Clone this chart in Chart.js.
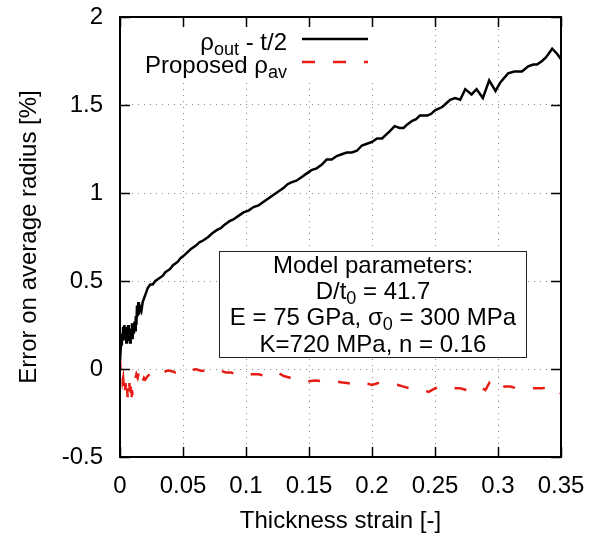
<!DOCTYPE html>
<html lang="en">
	<head>
		<meta charset="UTF-8" />
		<title>Error on average radius</title>
		<script src="https://cdn.jsdelivr.net/npm/chart.js@4/dist/chart.umd.min.js"></script>
		<style>
			body { margin: 0; background: #fff; }
		</style>
	</head>
	<body>
		<canvas id="errChart" width="590" height="537"></canvas>
		<script>
			const FONT = "'Liberation Sans', Arial, Helvetica, sans-serif";

			// rho_out - t/2 (black solid)
			const outStrain = [0, 0.0008, 0.0015, 0.002, 0.0025, 0.003, 0.0035, 0.004, 0.0045, 0.005, 0.0055, 0.006, 0.0065, 0.007, 0.0075, 0.008, 0.0085, 0.009, 0.0095, 0.01, 0.0105, 0.011, 0.0115, 0.012, 0.0125, 0.013, 0.0135, 0.014, 0.0145, 0.015, 0.016, 0.017, 0.018, 0.019, 0.02, 0.021, 0.022, 0.023, 0.024, 0.026, 0.028, 0.03, 0.032, 0.034, 0.036, 0.038, 0.04, 0.042, 0.044, 0.046, 0.048, 0.05, 0.053, 0.056, 0.06, 0.063, 0.066, 0.07, 0.073, 0.077, 0.08, 0.083, 0.087, 0.09, 0.094, 0.098, 0.102, 0.106, 0.11, 0.114, 0.118, 0.122, 0.126, 0.13, 0.133, 0.136, 0.14, 0.144, 0.148, 0.152, 0.156, 0.16, 0.164, 0.168, 0.172, 0.176, 0.18, 0.184, 0.188, 0.192, 0.196, 0.2, 0.204, 0.208, 0.211, 0.214, 0.218, 0.222, 0.225, 0.228, 0.232, 0.235, 0.238, 0.241, 0.244, 0.247, 0.25, 0.253, 0.256, 0.259, 0.262, 0.266, 0.27, 0.274, 0.279, 0.283, 0.288, 0.293, 0.298, 0.302, 0.308, 0.313, 0.319, 0.324, 0.328, 0.331, 0.335, 0.338, 0.341, 0.343, 0.347, 0.35];
			const outError = [0.05, 0.14, 0.2, 0.16, 0.24, 0.18, 0.25, 0.17, 0.22, 0.15, 0.24, 0.18, 0.25, 0.16, 0.22, 0.15, 0.23, 0.18, 0.26, 0.17, 0.24, 0.2, 0.27, 0.22, 0.3, 0.25, 0.36, 0.3, 0.38, 0.31, 0.35, 0.33, 0.38, 0.4, 0.42, 0.44, 0.46, 0.47, 0.48, 0.48, 0.5, 0.51, 0.52, 0.53, 0.55, 0.56, 0.57, 0.59, 0.6, 0.61, 0.63, 0.64, 0.66, 0.68, 0.7, 0.72, 0.73, 0.75, 0.77, 0.79, 0.8, 0.82, 0.84, 0.85, 0.87, 0.89, 0.9, 0.92, 0.93, 0.95, 0.97, 0.99, 1.01, 1.03, 1.05, 1.06, 1.07, 1.09, 1.11, 1.13, 1.14, 1.16, 1.19, 1.19, 1.21, 1.22, 1.23, 1.23, 1.24, 1.27, 1.28, 1.29, 1.31, 1.31, 1.33, 1.35, 1.38, 1.37, 1.37, 1.39, 1.41, 1.42, 1.44, 1.44, 1.44, 1.45, 1.47, 1.48, 1.49, 1.51, 1.53, 1.54, 1.53, 1.59, 1.56, 1.59, 1.54, 1.64, 1.58, 1.63, 1.68, 1.69, 1.69, 1.72, 1.73, 1.73, 1.75, 1.77, 1.8, 1.82, 1.79, 1.76];

			// proposed rho_av (red dashed)
			const avStrain = [0, 0.0005, 0.001, 0.0015, 0.002, 0.0025, 0.003, 0.0035, 0.004, 0.0045, 0.005, 0.0055, 0.006, 0.0065, 0.007, 0.0075, 0.008, 0.0085, 0.009, 0.0095, 0.01, 0.011, 0.012, 0.013, 0.014, 0.015, 0.016, 0.017, 0.018, 0.019, 0.02, 0.022, 0.025, 0.028, 0.031, 0.034, 0.037, 0.04, 0.044, 0.048, 0.052, 0.056, 0.06, 0.064, 0.068, 0.072, 0.076, 0.08, 0.084, 0.088, 0.092, 0.096, 0.1, 0.105, 0.11, 0.115, 0.12, 0.125, 0.13, 0.135, 0.14, 0.145, 0.15, 0.155, 0.16, 0.165, 0.17, 0.175, 0.18, 0.185, 0.19, 0.195, 0.2, 0.205, 0.21, 0.215, 0.22, 0.225, 0.23, 0.235, 0.24, 0.245, 0.25, 0.255, 0.26, 0.265, 0.27, 0.275, 0.28, 0.285, 0.29, 0.293, 0.296, 0.3, 0.305, 0.31, 0.315, 0.32, 0.325, 0.33, 0.335, 0.34, 0.345, 0.35];
			const avError = [0.06, -0.02, -0.05, -0.03, -0.07, -0.05, -0.1, -0.06, -0.12, -0.08, -0.14, -0.09, -0.16, -0.1, -0.13, -0.08, -0.18, -0.1, -0.2, -0.12, -0.15, -0.09, -0.06, -0.03, -0.05, -0.02, -0.06, -0.04, -0.07, -0.05, -0.06, -0.04, -0.02, 0, -0.01, -0.02, -0.01, -0.01, -0.02, -0.01, -0.02, -0.01, 0, -0.01, -0.01, -0.02, -0.02, -0.01, -0.02, -0.02, -0.03, -0.02, -0.03, -0.03, -0.03, -0.04, -0.035, -0.02, -0.04, -0.05, -0.06, -0.06, -0.07, -0.065, -0.07, -0.07, -0.07, -0.075, -0.08, -0.085, -0.09, -0.08, -0.09, -0.08, -0.08, -0.085, -0.09, -0.1, -0.11, -0.11, -0.12, -0.13, -0.11, -0.1, -0.1, -0.11, -0.11, -0.12, -0.12, -0.1, -0.12, -0.08, -0.12, -0.12, -0.1, -0.1, -0.11, -0.11, -0.11, -0.11, -0.11, -0.1, -0.1, -0.14];

			const xTicks = [0, 0.05, 0.1, 0.15, 0.2, 0.25, 0.3, 0.35];
			const yTicks = [-0.5, 0, 0.5, 1, 1.5, 2];

			const legendItems = [
				{ parts: [["ρ"], ["out", 1], [" - t/2"]], color: "#000", dash: [] },
				{ parts: [["Proposed ρ"], ["av", 1]], color: "rgb(232,30,22)", dash: [13, 18] },
			];
			const boxLines = [
				[["Model parameters:"]],
				[["D/t"], ["0", 1], [" = 41.7"]],
				[["E = 75 GPa, σ"], ["0", 1], [" = 300 MPa"]],
				[["K=720 MPa, n = 0.16"]],
			];

			// text with subscripts: parts = [[text, isSub], ...]
			function richWidth(ctx, parts) {
				let w = 0;
				for (const [t, sub] of parts) {
					ctx.font = (sub ? 18 : 24) + "px " + FONT;
					w += ctx.measureText(t).width;
				}
				return w;
			}
			function drawRich(ctx, parts, x, y) {
				ctx.textAlign = "left";
				ctx.textBaseline = "alphabetic";
				for (const [t, sub] of parts) {
					ctx.font = (sub ? 18 : 24) + "px " + FONT;
					ctx.fillText(t, x, sub ? y + 5 : y);
					x += ctx.measureText(t).width;
				}
			}

			const gnuplotBits = {
				id: "gnuplotBits",
				afterDraw(chart) {
					const ctx = chart.ctx;
					const { left, right, top, bottom } = chart.chartArea;
					const xs = chart.scales.x;
					const ys = chart.scales.y;
					ctx.save();

					// key (opaque)
					ctx.fillStyle = "#fff";
					ctx.fillRect(left + 1, top + 1, 376 - left, 77 - top);
					ctx.fillStyle = "#000";
					legendItems.forEach((item, i) => {
						const base = 50 + i * 23;
						const w = richWidth(ctx, item.parts);
						drawRich(ctx, item.parts, 287 - w, base);
						ctx.beginPath();
						ctx.strokeStyle = item.color;
						ctx.lineWidth = 2.5;
						ctx.setLineDash(item.dash);
						ctx.moveTo(302, base - 11);
						ctx.lineTo(368, base - 11);
						ctx.stroke();
					});
					ctx.setLineDash([]);

					// parameter box
					ctx.fillStyle = "#fff";
					ctx.fillRect(219, 251, 307, 106);
					ctx.strokeStyle = "#222";
					ctx.lineWidth = 1;
					ctx.strokeRect(219.5, 251.5, 307, 106);
					ctx.fillStyle = "#000";
					const baselines = [273, 299, 325, 352];
					boxLines.forEach((parts, i) => {
						const w = richWidth(ctx, parts);
						drawRich(ctx, parts, 373 - w / 2, baselines[i]);
					});

					// inward ticks
					ctx.strokeStyle = "#000";
					ctx.lineWidth = 1.5;
					ctx.beginPath();
					for (const v of xTicks) {
						const px = Math.round(xs.getPixelForValue(v)) + 0.5;
						ctx.moveTo(px, bottom);
						ctx.lineTo(px, bottom - 10);
						ctx.moveTo(px, top);
						ctx.lineTo(px, top + 10);
					}
					for (const v of yTicks) {
						const py = Math.round(ys.getPixelForValue(v)) + 0.5;
						ctx.moveTo(left, py);
						ctx.lineTo(left + 10, py);
						ctx.moveTo(right, py);
						ctx.lineTo(right - 10, py);
					}
					ctx.stroke();

					// frame
					ctx.lineWidth = 2;
					ctx.strokeRect(left, top, right - left, bottom - top);
					ctx.restore();
				},
			};

			const fmt = (v) => String(Number(v.toFixed(2)));

			new Chart(document.getElementById("errChart"), {
				type: "line",
				data: {
					datasets: [
						{
							label: "rho_out - t/2",
							data: outStrain.map((x, i) => ({ x, y: outError[i] })),
							borderColor: "#000",
							borderWidth: 2.5,
							pointRadius: 0,
							tension: 0,
						},
						{
							label: "Proposed rho_av",
							data: avStrain.map((x, i) => ({ x, y: avError[i] })),
							borderColor: "rgb(232,30,22)",
							borderWidth: 2.5,
							borderDash: [12, 18],
							pointRadius: 0,
							tension: 0,
						},
					],
				},
				options: {
					responsive: false,
					animation: false,
					layout: { padding: { top: 17, right: 29, left: 0, bottom: 0 } },
					plugins: {
						legend: { display: false },
						tooltip: { enabled: false },
					},
					scales: {
						x: {
							type: "linear",
							min: 0,
							max: 0.35,
							afterBuildTicks: (s) => { s.ticks = xTicks.map((v) => ({ value: v })); },
							afterFit: (s) => {
								s.height = 80;
								s.paddingLeft = 0;
								s.paddingRight = 0;
							},
							border: { display: false, dash: [1, 5] },
							grid: { color: "#888", lineWidth: 1, drawTicks: false },
							ticks: {
								color: "#000",
								font: { family: FONT, size: 24 },
								padding: 15,
								maxRotation: 0,
								callback: (v) => fmt(v),
							},
							title: {
								display: true,
								text: "Thickness strain [-]",
								color: "#000",
								font: { family: FONT, size: 24 },
								padding: { top: 0, bottom: 1 },
							},
						},
						y: {
							min: -0.5,
							max: 2,
							afterBuildTicks: (s) => { s.ticks = yTicks.map((v) => ({ value: v })); },
							afterFit: (s) => {
								s.width = 120;
								s.paddingTop = 0;
								s.paddingBottom = 0;
							},
							border: { display: false, dash: [1, 5] },
							grid: { color: "#888", lineWidth: 1, drawTicks: false },
							ticks: {
								color: "#000",
								font: { family: FONT, size: 24 },
								padding: 17,
								callback: (v) => fmt(v),
							},
							title: {
								display: true,
								text: "Error on average radius [%]",
								color: "#000",
								font: { family: FONT, size: 24 },
								padding: { top: 15, bottom: 0 },
							},
						},
					},
				},
				plugins: [gnuplotBits],
			});
		</script>
	</body>
</html>
